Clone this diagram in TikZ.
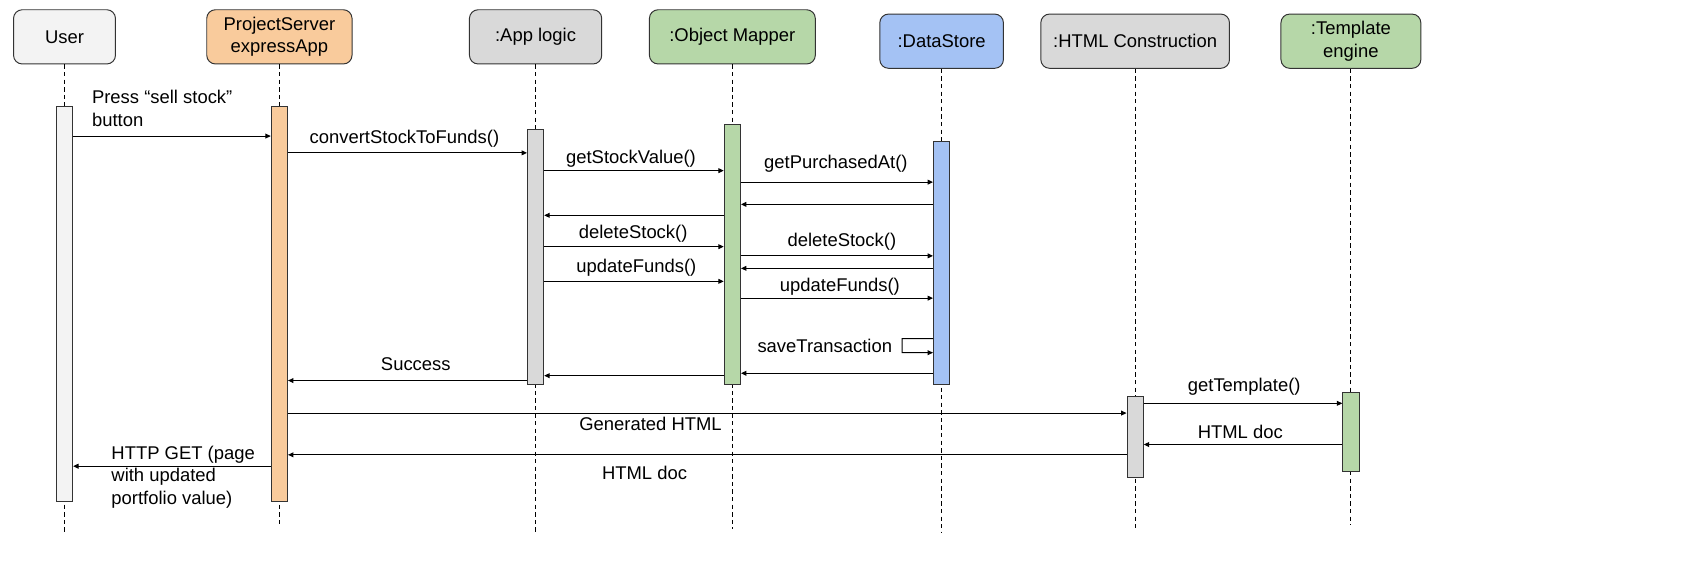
\documentclass[tikz,border=0pt]{standalone}
\usepackage{fontspec}
\setmainfont{Liberation Sans}
\usepackage{tikz}
\usetikzlibrary{arrows.meta}

\definecolor{usergray}{HTML}{F3F3F3}
\definecolor{srvorange}{HTML}{F9CB9C}
\definecolor{logicgray}{HTML}{D9D9D9}
\definecolor{mapgreen}{HTML}{B6D7A8}
\definecolor{storeblue}{HTML}{A4C2F4}

\begin{document}
\begin{tikzpicture}[x=1pt,y=-1pt,
    font=\fontsize{17}{20.5}\selectfont,
    actor/.style={draw=black!80,line width=0.9pt,rounded corners=8pt,minimum height=50pt,align=center,inner sep=0pt},
    bar/.style={draw=black!80,line width=0.9pt,minimum width=15pt,inner sep=0pt},
    lifeline/.style={line width=0.9pt,dash pattern=on 4pt off 3pt},
    msg/.style={-{Triangle[length=5pt,width=4.5pt]},line width=0.9pt},
    lbl/.style={inner sep=0pt,align=left}]
    \useasboundingbox (0,0) rectangle (1568,529);

    \node[actor,fill=usergray,minimum width=94pt] (user) at (59.5,34) {User};
    \node[actor,fill=srvorange,minimum width=134pt] (srv) at (257.7,34) {ProjectServer\\expressApp};
    \node[actor,fill=logicgray,minimum width=122pt] (logic) at (494,34) {:App logic};
    \node[actor,fill=mapgreen,minimum width=153pt] (mapper) at (675.5,34) {:Object Mapper};
    \node[actor,fill=storeblue,minimum width=114pt] (store) at (868.5,38) {:DataStore};
    \node[actor,fill=logicgray,minimum width=174pt] (html) at (1047,38) {:HTML Construction};
    \node[actor,fill=mapgreen,minimum width=129pt] (tmpl) at (1246,38) {:Template\\engine};

    \draw[lifeline] (user.south) -- (user.south |- 0,492);
    \draw[lifeline] (srv.south) -- (srv.south |- 0,486);
    \draw[lifeline] (logic.south) -- (logic.south |- 0,492);
    \draw[lifeline] (mapper.south) -- (mapper.south |- 0,488);
    \draw[lifeline] (store.south) -- (store.south |- 0,491);
    \draw[lifeline] (html.south) -- (html.south |- 0,489);
    \draw[lifeline] (tmpl.south) -- (tmpl.south |- 0,484);

    \node[bar,fill=usergray,minimum height=365pt] (userbar) at (59.5,280.5) {};
    \node[bar,fill=srvorange,minimum height=365pt] (srvbar) at (257.7,280.5) {};
    \node[bar,fill=logicgray,minimum height=235.7pt] (logicbar) at (494,237.15) {};
    \node[bar,fill=mapgreen,minimum height=240.6pt] (mapperbar) at (675.5,234.7) {};
    \node[bar,fill=storeblue,minimum height=224.3pt] (storebar) at (868.5,242.85) {};
    \node[bar,fill=logicgray,minimum height=74pt] (htmlbar) at (1047,403) {};
    \node[bar,fill=mapgreen,minimum height=73pt] (tmplbar) at (1246,398.5) {};

    \draw[msg] (userbar.east |- 0,125.5) -- (srvbar.west |- 0,125.5);
    \node[lbl,anchor=west] (press) at (84.7,100) {Press “sell stock”\\button};

    \draw[msg] (srvbar.east |- 0,141) -- (logicbar.west |- 0,141);
    \node[lbl] (convert) at (373,127.6) {convertStockToFunds()};

    \draw[msg] (logicbar.east |- 0,157.4) -- (mapperbar.west |- 0,157.4);
    \node[lbl] (getvalue) at (582,146) {getStockValue()};

    \draw[msg] (mapperbar.east |- 0,168) -- (storebar.west |- 0,168);
    \node[lbl] (getbought) at (771,151.3) {getPurchasedAt()};

    \draw[msg] (storebar.west |- 0,188.5) -- (mapperbar.east |- 0,188.5);
    \draw[msg] (mapperbar.west |- 0,198.6) -- (logicbar.east |- 0,198.6);

    \draw[msg] (logicbar.east |- 0,227.5) -- (mapperbar.west |- 0,227.5);
    \node[lbl] (dela) at (584,215.8) {deleteStock()};

    \draw[msg] (mapperbar.east |- 0,236) -- (storebar.west |- 0,236);
    \node[lbl] (delb) at (776.5,222.9) {deleteStock()};

    \draw[msg] (storebar.west |- 0,247.5) -- (mapperbar.east |- 0,247.5);

    \draw[msg] (logicbar.east |- 0,259.5) -- (mapperbar.west |- 0,259.5);
    \node[lbl] (funda) at (587,246.6) {updateFunds()};

    \draw[msg] (mapperbar.east |- 0,275) -- (storebar.west |- 0,275);
    \node[lbl] (fundb) at (774.7,264.4) {updateFunds()};

    \draw[msg] (storebar.west |- 0,312.4) -- ++(-28.5,0) -- ++(0,12.9) -- (storebar.west |- 0,325.3);
    \node[lbl,anchor=east] (save) at (823,318.8) {saveTransaction};

    \draw[msg] (storebar.west |- 0,344.3) -- (mapperbar.east |- 0,344.3);
    \draw[msg] (mapperbar.west |- 0,346.5) -- (logicbar.east |- 0,346.5);

    \draw[msg] (logicbar.west |- 0,351) -- (srvbar.east |- 0,351);
    \node[lbl] (success) at (383.5,336) {Success};

    \draw[msg] (srvbar.east |- 0,381) -- (htmlbar.west |- 0,381);
    \node[lbl] (generated) at (600,391) {Generated HTML};

    \draw[msg] (htmlbar.east |- 0,372) -- (tmplbar.west |- 0,372);
    \node[lbl] (gettmpl) at (1147.6,356.6) {getTemplate()};

    \draw[msg] (tmplbar.west |- 0,410) -- (htmlbar.east |- 0,410);
    \node[lbl] (doca) at (1144,398) {HTML doc};

    \draw[msg] (htmlbar.west |- 0,419.5) -- (srvbar.east |- 0,419.5);
    \node[lbl] (docb) at (594.5,436.6) {HTML doc};

    \draw[msg] (srvbar.west |- 0,430) -- (userbar.east |- 0,430);
    \node[lbl,anchor=west] (httpget) at (102.6,440) {HTTP GET (page\\with updated\\portfolio value)};
\end{tikzpicture}
\end{document}
